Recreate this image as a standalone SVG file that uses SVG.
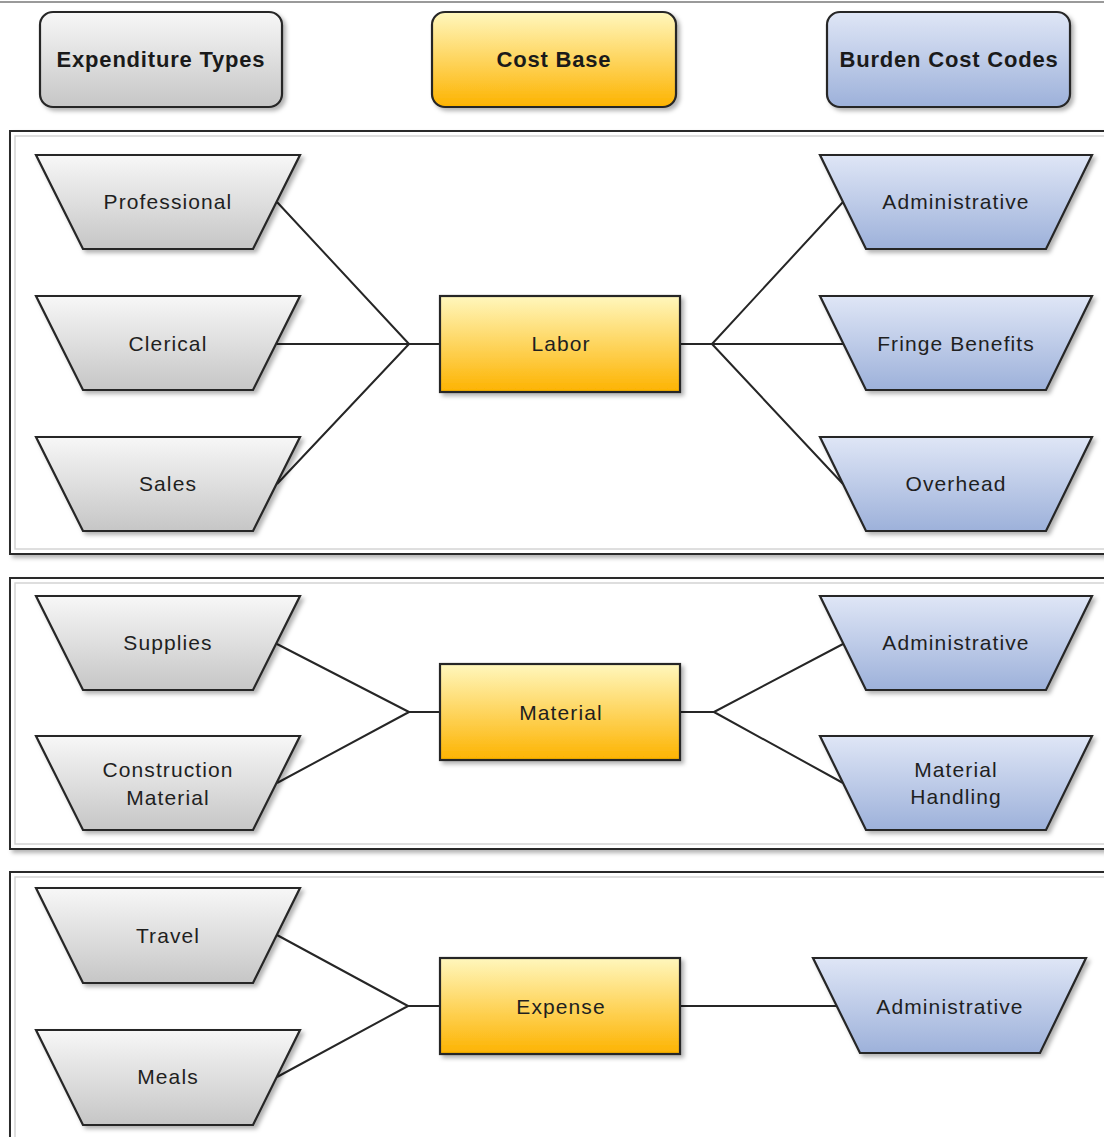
<svg xmlns="http://www.w3.org/2000/svg" width="1104" height="1137" viewBox="0 0 1104 1137">
<defs>
<linearGradient id="gGray" x1="0" y1="0" x2="0" y2="1"><stop offset="0" stop-color="#f7f7f7"/><stop offset="1" stop-color="#c6c6c6"/></linearGradient>
<linearGradient id="gYel" x1="0" y1="0" x2="0" y2="1"><stop offset="0" stop-color="#fff7bd"/><stop offset="1" stop-color="#fdb300"/></linearGradient>
<linearGradient id="gBlue" x1="0" y1="0" x2="0" y2="1"><stop offset="0" stop-color="#dfe6f6"/><stop offset="1" stop-color="#9db1da"/></linearGradient>
<filter id="sh" x="-10%" y="-10%" width="130%" height="130%"><feDropShadow dx="3" dy="3" stdDeviation="2" flood-color="#000" flood-opacity="0.3"/></filter>
</defs>
<style>
.panel{fill:#fff;stroke:#2b2b2b;stroke-width:2}
.inner{fill:none;stroke:#d4d4d4;stroke-width:1.5}
.gray{fill:url(#gGray);stroke:#262626;stroke-width:2.2;filter:url(#sh)}
.yel{fill:url(#gYel);stroke:#262626;stroke-width:2.2;filter:url(#sh)}
.blue{fill:url(#gBlue);stroke:#262626;stroke-width:2.2;filter:url(#sh)}
.hd{font-family:"Liberation Sans",Arial,sans-serif;font-weight:bold;font-size:22px;letter-spacing:0.8px;fill:#1a1a1a;text-anchor:middle}
.lb{font-family:"Liberation Sans",Arial,sans-serif;font-size:21px;letter-spacing:1.1px;fill:#1f1f1f;text-anchor:middle}
.conn{fill:none;stroke:#262626;stroke-width:2}
</style>
<rect width="1104" height="1137" fill="#fff"/>
<line x1="0" y1="2" x2="1104" y2="2" stroke="#9a9a9a" stroke-width="2"/>

<g id="panels">
<rect class="panel" x="10" y="131" width="1110" height="423" filter="url(#sh)"/>
<rect class="inner" x="15" y="136" width="1100" height="413"/>
<rect class="panel" x="10" y="578" width="1110" height="271" filter="url(#sh)"/>
<rect class="inner" x="15" y="583" width="1100" height="261"/>
<rect class="panel" x="10" y="872" width="1110" height="300" filter="url(#sh)"/>
<rect class="inner" x="15" y="877" width="1100" height="290"/>
</g>

<g id="connectors">
<path class="conn" d="M277,202 L409,344 M277,344 L409,344 M277,484 L409,344 M409,344 L440,344"/>
<path class="conn" d="M680,344 L712,344 M712,344 L843,202 M712,344 L843,344 M712,344 L843,484"/>
<path class="conn" d="M277,644 L409,712 M277,783 L409,712 M409,712 L440,712"/>
<path class="conn" d="M680,712 L714,712 M714,712 L843,644 M714,712 L843,783"/>
<path class="conn" d="M277,935 L408,1006 M277,1077 L408,1006 M408,1006 L440,1006"/>
<path class="conn" d="M680,1006 L837,1006"/>
</g>

<g id="hdr-expenditure-types"><rect class="gray" x="40" y="12" width="242" height="95" rx="13"/><text class="hd" x="161" y="67">Expenditure Types</text></g>
<g id="hdr-cost-base"><rect class="yel" x="432" y="12" width="244" height="95" rx="13"/><text class="hd" x="554" y="67">Cost Base</text></g>
<g id="hdr-burden-cost-codes"><rect class="blue" x="827" y="12" width="243" height="95" rx="13"/><text class="hd" x="949" y="67">Burden Cost Codes</text></g>

<g id="et-professional"><polygon class="gray" points="36,155 300,155 253,249 83,249"/><text class="lb" x="168" y="209">Professional</text></g>
<g id="et-clerical"><polygon class="gray" points="36,296 300,296 253,390 83,390"/><text class="lb" x="168" y="351">Clerical</text></g>
<g id="et-sales"><polygon class="gray" points="36,437 300,437 253,531 83,531"/><text class="lb" x="168" y="491">Sales</text></g>

<g id="cb-labor"><rect class="yel" x="440" y="296" width="240" height="96"/><text class="lb" x="561" y="351">Labor</text></g>

<g id="bc-administrative-1"><polygon class="blue" points="820,155 1092,155 1046,249 866,249"/><text class="lb" x="956" y="209">Administrative</text></g>
<g id="bc-fringe-benefits"><polygon class="blue" points="820,296 1092,296 1046,390 866,390"/><text class="lb" x="956" y="351">Fringe Benefits</text></g>
<g id="bc-overhead"><polygon class="blue" points="820,437 1092,437 1046,531 866,531"/><text class="lb" x="956" y="491">Overhead</text></g>

<g id="et-supplies"><polygon class="gray" points="36,596 300,596 253,690 83,690"/><text class="lb" x="168" y="650">Supplies</text></g>
<g id="et-construction-material"><polygon class="gray" points="36,736 300,736 253,830 83,830"/><text class="lb" x="168" y="777">Construction</text><text class="lb" x="168" y="805">Material</text></g>

<g id="cb-material"><rect class="yel" x="440" y="664" width="240" height="96"/><text class="lb" x="561" y="720">Material</text></g>

<g id="bc-administrative-2"><polygon class="blue" points="820,596 1092,596 1046,690 866,690"/><text class="lb" x="956" y="650">Administrative</text></g>
<g id="bc-material-handling"><polygon class="blue" points="820,736 1092,736 1046,830 866,830"/><text class="lb" x="956" y="777">Material</text><text class="lb" x="956" y="804">Handling</text></g>

<g id="et-travel"><polygon class="gray" points="36,888 300,888 253,983 83,983"/><text class="lb" x="168" y="943">Travel</text></g>
<g id="et-meals"><polygon class="gray" points="36,1030 300,1030 253,1125 83,1125"/><text class="lb" x="168" y="1084">Meals</text></g>

<g id="cb-expense"><rect class="yel" x="440" y="958" width="240" height="96"/><text class="lb" x="561" y="1014">Expense</text></g>

<g id="bc-administrative-3"><polygon class="blue" points="813,958 1086,958 1040,1053 860,1053"/><text class="lb" x="950" y="1014">Administrative</text></g>
</svg>
